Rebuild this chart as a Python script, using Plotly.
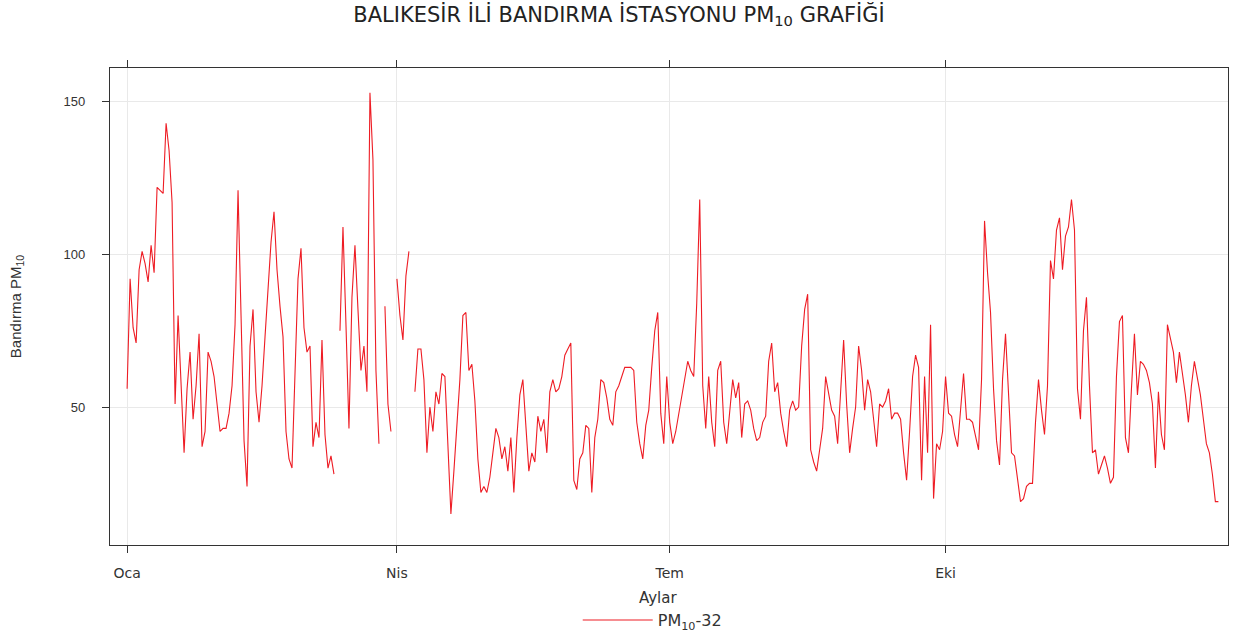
import pandas as pd
import plotly.graph_objects as go

# Daily PM10 concentrations (µg/m³) for Bandırma station, one list per month.
# None marks days without a valid measurement.
oca = [56, 92, 76, 71, 95, 101, 97, 91, 103, 94, 122, 121, 120, 143, 134, 117,
       51, 80, 58, 35, 56, 68, 46, 57, 74, 37, 42, 68, 65, 60, 51]
sub = [42, 43, 43, 48, 57, 77, 121, 80, 39, 24, 70, 82, 55, 45, 57, 73, 90, 104,
       114, 95, 83, 73, 42, 33, 30, 64, 92, 102]
mar = [76, 68, 70, 37, 45, 40, 72, 41, 30, 34, 28, None, 75, 109, 77, 43, 86,
       103, 82, 62, 70, 55, 153, 131, 62, 38, None, 83, 51, 42, None]
nis = [92, 80, 72, 93, 101, None, 55, 69, 69, 59, 35, 50, 42, 55, 51, 61, 60,
       35, 15, 29, 44, 59, 80, 81, 62, 64, 52, 33, 22, 24]
may = [22, 27, 35, 43, 40, 33, 37, 29, 40, 22, 40, 54, 59, 43, 29, 35, 32, 47,
       42, 46, 35, 55, 59, 55, 56, 60, 67, 69, 71, 26, 23]
haz = [33, 35, 44, 43, 22, 40, 46, 59, 58, 53, 46, 44, 55, 57, 60, 63, 63, 63,
       62, 45, 38, 33, 44, 49, 63, 75, 81, 48, 38, 60]
tem = [45, 38, 42, 48, 54, 59, 65, 62, 60, 84, 118, 57, 43, 60, 45, 37, 62, 65,
       45, 38, 48, 59, 53, 58, 40, 51, 52, 49, 43, 39, 40]
agu = [45, 47, 65, 71, 55, 58, 48, 42, 37, 49, 52, 49, 50, 70, 82, 87, 36, 32,
       29, 36, 43, 60, 54, 49, 47, 38, 55, 72, 51, 35, 43]
eyl = [50, 70, 62, 49, 59, 55, 47, 37, 51, 50, 52, 56, 46, 48, 48, 46, 35, 26,
       42, 60, 67, 63, 26, 60, 35, 77, 20, 38, 36, 42]
eki = [60, 48, 47, 41, 37, 48, 61, 46, 46, 45, 40, 36, 59, 111, 94, 81, 56, 39,
       31, 59, 74, 55, 35, 34, 27, 19, 20, 24, 25, 25, 45]
kas = [59, 49, 41, 57, 98, 92, 108, 112, 95, 106, 109, 118, 108, 56, 46, 75, 86,
       57, 35, 36, 28, 31, 34, 30, 25, 27, 60, 78, 80, 40]
ara = [35, 56, 74, 54, 65, 64, 62, 58, 51, 30, 55, 41, 36, 77, 72, 68, 58, 68,
       61, 54, 45, 57, 65, 60, 54, 46, 38, 35, 28, 19, 19]

pm10 = oca + sub + mar + nis + may + haz + tem + agu + eyl + eki + kas + ara
dates = pd.date_range("2015-01-01", periods=len(pm10), freq="D")

tick_dates = ["2015-01-01", "2015-04-01", "2015-07-01", "2015-10-01"]
tick_labels = ["Oca", "Nis", "Tem", "Eki"]
y_ticks = [50, 100, 150]

FONT = "Liberation Sans, Arial, sans-serif"
WIDE = "DejaVu Sans, Verdana, sans-serif"

fig = go.Figure()
fig.add_trace(go.Scatter(
    x=dates, y=pm10, mode="lines", name="PM<sub>10</sub>-32",
    line=dict(color="#ee1c24", width=1.1), connectgaps=False,
))

axis_common = dict(
    showline=True, linecolor="#333333", linewidth=1.2,
    ticks="outside", ticklen=7, tickcolor="#333333",
    showgrid=True, gridcolor="#e9e9e9", gridwidth=1, zeroline=False,
    automargin=False,
)

fig.update_layout(
    width=1238, height=636,
    margin=dict(l=110, r=10, t=68, b=91),
    paper_bgcolor="white", plot_bgcolor="white",
    font=dict(family=FONT, color="#222222"),
    title=dict(
        text="BALIKESİR İLİ BANDIRMA İSTASYONU PM<sub>10</sub> GRAFİĞİ",
        x=0.5, xanchor="center", y=0.977, yanchor="middle",
        font=dict(family=WIDE, size=21, color="#222222"),
    ),
    xaxis=dict(
        **axis_common,
        mirror="ticks",
        range=["2014-12-26 07:00", "2016-01-03 05:00"],
        tickvals=tick_dates, ticktext=tick_labels,
        tickfont=dict(family=WIDE, size=14, color="#333333"),
        ticklabelstandoff=8,
    ),
    yaxis=dict(
        **axis_common,
        mirror=True,
        range=[4.8, 161.1],
        tickvals=y_ticks,
        tickfont=dict(family=FONT, size=13, color="#333333"),
        ticklabelstandoff=14,
        title=dict(text="Bandırma PM<sub>10</sub>",
                   font=dict(family=FONT, size=15, color="#333333"), standoff=38),
    ),
    showlegend=True,
    legend=dict(
        orientation="h", x=0.485, xanchor="center",
        yref="container", y=0.025, yanchor="middle",
        font=dict(family=WIDE, size=16, color="#333333"),
        itemwidth=70, bgcolor="rgba(0,0,0,0)",
    ),
)

# x-axis title placed below the month labels
fig.add_annotation(
    text="Aylar", xref="paper", yref="paper", x=0.49, y=-0.111,
    xanchor="center", yanchor="middle", showarrow=False,
    font=dict(family=WIDE, size=15, color="#333333"),
)

fig.write_html("out.html")
